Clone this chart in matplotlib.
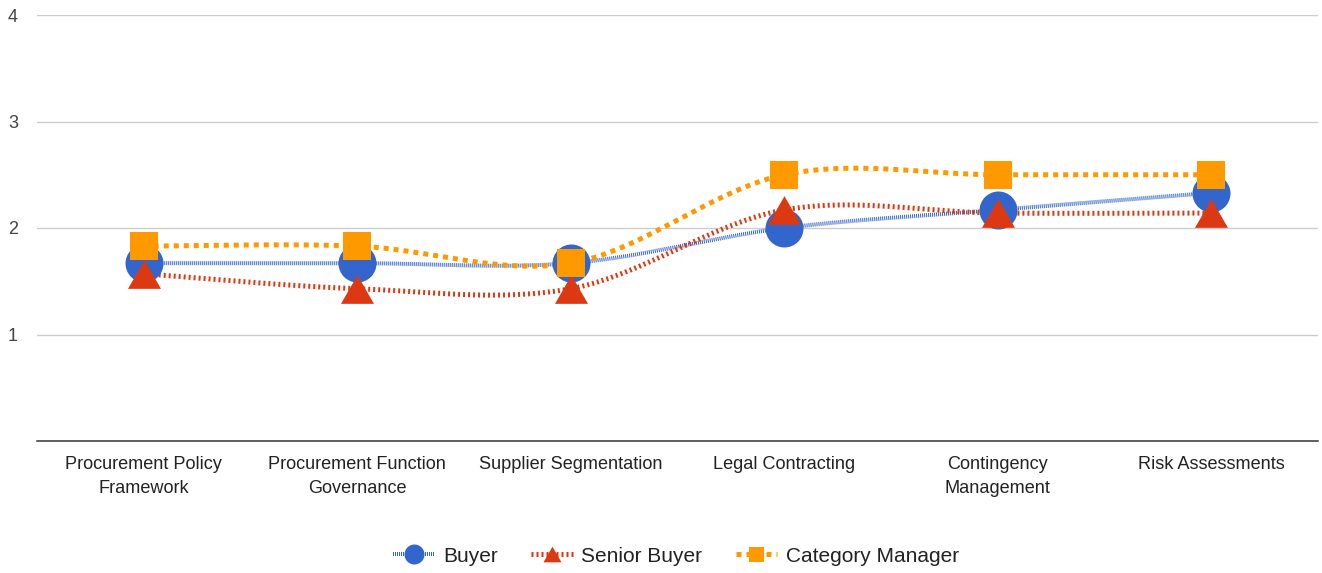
import numpy as np
import matplotlib
matplotlib.use("Agg")
import matplotlib.pyplot as plt
from matplotlib.lines import Line2D

plt.rcParams['font.family'] = ['Liberation Sans', 'DejaVu Sans']
plt.rcParams['lines.scale_dashes'] = False

# ------------------------------
# data
# ------------------------------
categories = ["Procurement Policy\nFramework", "Procurement Function\nGovernance",
              "Supplier Segmentation", "Legal Contracting",
              "Contingency\nManagement", "Risk Assessments"]
buyer = [1.67, 1.67, 1.67, 2.0, 2.17, 2.33]
senior_buyer = [1.57, 1.43, 1.43, 2.17, 2.14, 2.14]
category_manager = [1.83, 1.83, 1.67, 2.5, 2.5, 2.5]
y_ticks = [1, 2, 3, 4]

BLUE, RED, ORANGE = "#3366cc", "#dc3912", "#ff9900"
PX = 0.72  # points per pixel at dpi 100


def smooth(xs, ys, n=40, k=1/6):
    # cardinal (catmull-rom style) bezier through the points
    xs = np.asarray(xs, float); ys = np.asarray(ys, float)
    P = np.column_stack([xs, ys])
    out = []
    for i in range(len(P) - 1):
        p0 = P[i - 1] if i > 0 else P[i]
        p3 = P[i + 2] if i + 2 < len(P) else P[i + 1]
        c1 = P[i] + (P[i + 1] - p0) * k
        c2 = P[i + 1] - (p3 - P[i]) * k
        t = np.linspace(0, 1, n)[:, None]
        seg = ((1 - t) ** 3) * P[i] + 3 * ((1 - t) ** 2) * t * c1 + 3 * (1 - t) * t ** 2 * c2 + t ** 3 * P[i + 1]
        out.append(seg if i == 0 else seg[1:])
    s = np.vstack(out)
    return s[:, 0], s[:, 1]


fig = plt.figure(figsize=(13.22, 5.73), dpi=100)
ax = fig.add_axes([37/1322, 132/573, 1281/1322, 426/573])

x = np.arange(len(categories))

series = [
    ("Buyer", buyer, BLUE, 4, (0, (1*PX, 1*PX)), 'o', 38, 20),
    ("Senior Buyer", senior_buyer, RED, 5, (0, (2*PX, 3*PX)), [(0, 0.8), (-0.92, -0.8), (0.92, -0.8)], 33, 18),
    ("Category Manager", category_manager, ORANGE, 5, (0, (5*PX, 5*PX)), 's', 28, 15),
]

handles = []
for name, vals, col, lw, ls, mk, ms, lms in series:
    sx, sy = smooth(x, vals)
    ax.plot(sx, sy, color=col, lw=lw*PX, linestyle=ls, zorder=2, solid_capstyle='butt',
            dash_capstyle='butt')
    handles.append(Line2D([], [], color=col, lw=lw*PX, linestyle=ls, marker=mk,
                          markersize=lms*PX, markeredgewidth=0, label=name))

for name, vals, col, lw, ls, mk, ms, lms in series:
    ax.plot(x, vals, linestyle='none', marker=mk, markersize=ms*PX, color=col,
            markeredgewidth=0, zorder=3)

ax.set_xlim(-0.5, len(categories) - 0.5)
ax.set_ylim(0, 4)
ax.set_yticks(y_ticks)
ax.set_yticklabels([str(v) for v in y_ticks])
ax.set_xticks(x)
ax.set_xticklabels(categories, fontsize=13.1, color="#222222", linespacing=1.55)
ax.tick_params(axis='both', length=0)
ax.tick_params(axis='x', pad=11)
ax.tick_params(axis='y', pad=13.7, labelsize=13, labelcolor="#444444")

ax.grid(axis='y', color="#cccccc", lw=1)
ax.set_axisbelow(True)
for side in ['top', 'right', 'left']:
    ax.spines[side].set_visible(False)
ax.spines['bottom'].set_color("#333333")
ax.spines['bottom'].set_linewidth(1.1)

fig.legend(handles=handles, loc='center', bbox_to_anchor=(676/1322, 17/573), ncol=3,
           frameon=False, fontsize=15, handlelength=2.0, handletextpad=0.4,
           columnspacing=1.6, labelcolor="#222222")

fig.savefig("out.png", dpi=100)
